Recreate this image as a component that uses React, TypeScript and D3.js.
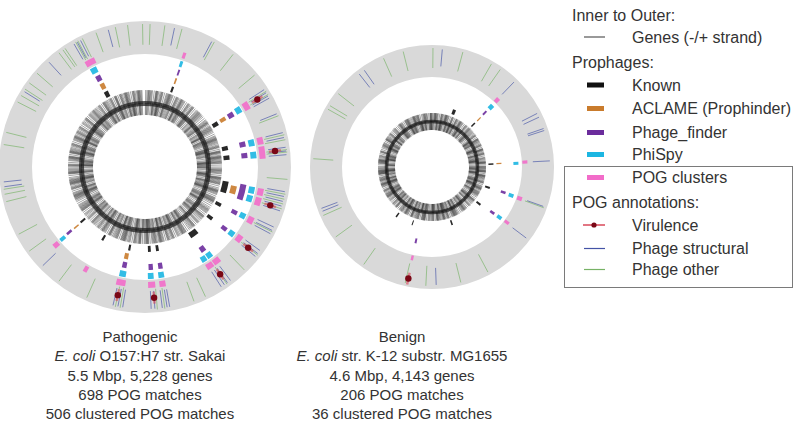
import React from 'react';
import * as d3 from 'd3';

// ---------------- DATA ----------------
const genomeSizes = [5.5, 4.6]; // Mbp
const captionTitles = ['Pathogenic', 'Benign'];
const captionStrains = [' O157:H7 str. Sakai', ' str. K-12 substr. MG1655'];
const captionSizes = ['5.5 Mbp, 5,228 genes', '4.6 Mbp, 4,143 genes'];
const captionPog = ['698 POG matches', '206 POG matches'];
const captionClustered = ['506 clustered POG matches', '36 clustered POG matches'];

// gene density per bin (ticks per bin), minus / plus strand
const sakaiGenesMinus =
  '3214253142231524312541325234132514321452312534125314235213425213425314213524135231425132452413521342513241352413253412534213524132531421534213524315243125431253421352413523142531420';
const sakaiGenesPlus =
  '2431524135314253142513542135244213532415253412431534125314521243153241532145231424135243153152413254143251352423514231543124531425421532413515324135242413251435324153241514253142530';
const k12GenesMinus =
  '314253142524135241353125341253142352134252134253142135241352314251324524135213425132413524132534125342135241325314215342135243152431254312534213524135';
const k12GenesPlus =
  '253142531414253142533241532415241325143515324135244215324135312453142523514231541432513524315241325424135243155321452314124315324134125314522534124315';

// prophage predictions [start, end] Mbp
const sakaiKnown = [[5.057, 5.103], [0.283, 0.306], [0.878, 0.924], [1.153, 1.199], [1.253, 1.299], [1.528, 1.650], [1.765, 1.803], [1.933, 1.971], [2.154, 2.246], [2.605, 2.635], [2.689, 2.719], [2.903, 2.926], [3.201, 3.224], [3.491, 3.514]];
const sakaiAclame = [[5.057, 5.103], [0.290, 0.306], [0.878, 0.917], [1.558, 1.635], [2.910, 2.949], [3.491, 3.506]];
const sakaiPhageFinder = [[5.057, 5.103], [0.290, 0.306], [0.878, 0.924], [1.153, 1.199], [1.253, 1.299], [1.528, 1.665], [1.765, 1.803], [1.933, 1.971], [2.192, 2.238], [2.597, 2.635], [2.681, 2.719], [2.910, 2.949], [3.491, 3.514]];
const sakaiPhiSpy = [[5.049, 5.103], [0.283, 0.306], [0.871, 0.924], [1.153, 1.207], [1.253, 1.306], [1.535, 1.589], [1.604, 1.658], [1.757, 1.803], [1.925, 1.971], [2.177, 2.223], [2.231, 2.276], [2.597, 2.643], [2.681, 2.727], [2.903, 2.956], [3.483, 3.514]];
const sakaiPogClusters = [[5.042, 5.118], [0.283, 0.306], [0.871, 0.932], [1.153, 1.207], [1.222, 1.314], [1.535, 1.589], [1.604, 1.665], [1.757, 1.810], [1.917, 1.971], [2.154, 2.208], [2.215, 2.269], [2.597, 2.643], [2.674, 2.727], [2.895, 2.964], [3.193, 3.224], [3.476, 3.514]];

const k12Known = [[0.256, 0.294], [0.556, 0.575], [1.105, 1.124], [1.393, 1.418], [1.623, 1.648], [2.044, 2.064], [2.536, 2.549], [2.747, 2.766]];
const k12Aclame = [[0.562, 0.575], [1.105, 1.118]];
const k12PhageFinder = [[0.556, 0.575], [1.386, 1.412], [1.610, 1.636], [2.447, 2.466]];
const k12PhiSpy = [[0.549, 0.588], [1.105, 1.131], [1.386, 1.418], [1.604, 1.636]];
const k12PogClusters = [[0.549, 0.581], [1.099, 1.124], [1.386, 1.418], [1.604, 1.629], [2.447, 2.466]];

// POG annotations (Mbp)
const sakaiVirulence = [0.901, 1.268, 1.635, 1.956, 2.215, 2.689, 2.933];
const sakaiStructural = [0.183, 0.428, 0.871, 0.894, 0.917, 0.932, 1.039, 1.161, 1.192, 1.253, 1.276, 1.299, 1.528, 1.558, 1.589, 1.619, 1.650, 1.757, 1.780, 1.803, 1.925, 1.948, 1.971, 2.185, 2.208, 2.231, 2.254, 2.597, 2.613, 2.643, 2.689, 2.712, 2.888, 2.918, 2.949, 3.453, 4.003, 4.033, 4.614, 4.851, 5.042, 5.065, 5.088, 5.271];
const sakaiOther = [0.031, 0.122, 0.229, 0.443, 0.581, 0.764, 0.886, 0.909, 1.054, 1.176, 1.207, 1.268, 1.283, 1.451, 1.543, 1.574, 1.604, 1.635, 1.788, 1.956, 2.078, 2.215, 2.368, 2.444, 2.628, 2.674, 2.903, 2.933, 3.117, 3.315, 3.575, 3.697, 3.911, 3.957, 3.988, 4.263, 4.339, 4.538, 4.583, 4.629, 4.675, 4.751, 4.935, 4.965, 4.981, 5.057, 5.072, 5.103, 5.194, 5.317, 5.393, 5.485];
const k12Virulence = [2.453];
const k12Structural = [0.064, 0.562, 0.805, 0.831, 0.907, 0.920, 1.112, 1.399, 1.623, 2.274, 3.169, 3.188, 4.114, 4.153];
const k12Other = [0.006, 0.192, 0.383, 0.447, 1.406, 1.942, 2.121, 2.338, 2.466, 2.747, 2.990, 3.143, 3.501, 3.821, 3.846, 3.936, 4.293, 4.421];

// legend
const legendProphageLabels = ['Known', 'ACLAME (Prophinder)', 'Phage_finder', 'PhiSpy', 'POG clusters'];
const legendAnnotationLabels = ['Virulence', 'Phage structural', 'Phage other'];

// ---------------- STYLE / LAYOUT ----------------
const trackColors = ['#111111', '#c97b2c', '#6b2c9c', '#1cb6e2', '#f26cc9'];
const structuralColor = '#4453a6';
const otherColor = '#77b266';
const virulenceDot = '#7a0716';
const virulenceLine = '#d9485a';
const ringFill = '#d9d9d9';
const textColor = '#333333';
const FONT = "'Liberation Sans', Arial, sans-serif";

const layouts = [
  { cx: 145, cy: 167, ringIn: 113, ringOut: 146, gIn: 52, gMid: 63.5, gOut: 77, tracks: [82, 91, 100, 109, 118], half: 3, virR: 131, textX: 140, band: 5 },
  { cx: 432, cy: 167, ringIn: 90, ringOut: 122, gIn: 37, gMid: 45.5, gOut: 54, tracks: [59, 67, 75.5, 84, 93], half: 2.5, virR: 114, textX: 402, band: 3.5 },
];

const genomeData = [
  {
    minus: sakaiGenesMinus, plus: sakaiGenesPlus,
    prophages: [sakaiKnown, sakaiAclame, sakaiPhageFinder, sakaiPhiSpy, sakaiPogClusters],
    virulence: sakaiVirulence, structural: sakaiStructural, other: sakaiOther,
  },
  {
    minus: k12GenesMinus, plus: k12GenesPlus,
    prophages: [k12Known, k12Aclame, k12PhageFinder, k12PhiSpy, k12PogClusters],
    virulence: k12Virulence, structural: k12Structural, other: k12Other,
  },
];

function pt(a: number, r: number): [number, number] {
  return [r * Math.sin(a), -r * Math.cos(a)];
}

function geneTicks(str: string, angle: (t: number) => number, r0: number, r1: number, key: string) {
  const n = str.length;
  const out: JSX.Element[] = [];
  for (let i = 0; i < n; i++) {
    const c = +str[i];
    for (let k = 0; k < c; k++) {
      const a = angle((i + (k + 0.5) / c) / n);
      const [x0, y0] = pt(a, r0);
      const [x1, y1] = pt(a, r1);
      out.push(<line key={`${key}${i}-${k}`} x1={x0} y1={y0} x2={x1} y2={y1} stroke="#000" strokeOpacity={0.4} strokeWidth={0.9} />);
    }
  }
  return out;
}

function Genome({ idx }: { idx: number }) {
  const L = layouts[idx];
  const D = genomeData[idx];
  const size = genomeSizes[idx];
  const ang = d3.scaleLinear().domain([0, size]).range([0, 2 * Math.PI]);
  const frac = d3.scaleLinear().domain([0, 1]).range([0, 2 * Math.PI]);
  const ring = d3.arc()({ innerRadius: L.ringIn, outerRadius: L.ringOut, startAngle: 0, endAngle: 2 * Math.PI } as any) as string;
  const tickIn = L.ringIn + (L.ringOut - L.ringIn) * 0.28;
  const tickOut = L.ringOut - 3;

  return (
    <g transform={`translate(${L.cx},${L.cy})`}>
      <path d={ring} fill={ringFill} />
      {/* genes */}
      {geneTicks(D.minus, frac, L.gIn, L.gMid + 0.5, 'm')}
      {geneTicks(D.plus, frac, L.gMid - 0.5, L.gOut, 'p')}
      <circle r={L.gMid} fill="none" stroke="#1a1a1a" strokeOpacity={0.72} strokeWidth={L.band} />
      {/* prophages */}
      {D.prophages.map((list, t) =>
        list.map((s, j) => (
          <path
            key={`pr${t}-${j}`}
            d={d3.arc()({ innerRadius: L.tracks[t] - L.half, outerRadius: L.tracks[t] + L.half, startAngle: ang(s[0]), endAngle: ang(s[1]) } as any) as string}
            fill={trackColors[t]}
            fillOpacity={0.9}
          />
        ))
      )}
      {/* POG annotations */}
      {D.other.map((p, j) => {
        const a = ang(p);
        const [x0, y0] = pt(a, tickIn);
        const [x1, y1] = pt(a, tickOut);
        return <line key={`o${j}`} x1={x0} y1={y0} x2={x1} y2={y1} stroke={otherColor} strokeWidth={1} strokeOpacity={0.65} />;
      })}
      {D.structural.map((p, j) => {
        const a = ang(p);
        const [x0, y0] = pt(a, tickIn + 2);
        const [x1, y1] = pt(a, tickOut - 1);
        return <line key={`s${j}`} x1={x0} y1={y0} x2={x1} y2={y1} stroke={structuralColor} strokeWidth={1} strokeOpacity={0.65} />;
      })}
      {D.virulence.map((p, j) => {
        const a = ang(p);
        const [x0, y0] = pt(a, L.virR - 6);
        const [x1, y1] = pt(a, L.virR + 6);
        const [cx, cy] = pt(a, L.virR);
        return (
          <g key={`v${j}`}>
            <line x1={x0} y1={y0} x2={x1} y2={y1} stroke={virulenceLine} strokeWidth={2.5} strokeOpacity={0.6} />
            <circle cx={cx} cy={cy} r={3.2} fill={virulenceDot} />
          </g>
        );
      })}
    </g>
  );
}

function Caption({ idx }: { idx: number }) {
  const x = layouts[idx].textX;
  const y0 = 342;
  const dy = 19.3;
  return (
    <text x={x} textAnchor="middle" fontFamily={FONT} fontSize={15} fill={textColor}>
      <tspan x={x} y={y0}>{captionTitles[idx]}</tspan>
      <tspan x={x} y={y0 + dy}><tspan fontStyle="italic">E. coli</tspan>{captionStrains[idx]}</tspan>
      <tspan x={x} y={y0 + 2 * dy}>{captionSizes[idx]}</tspan>
      <tspan x={x} y={y0 + 3 * dy}>{captionPog[idx]}</tspan>
      <tspan x={x} y={y0 + 4 * dy}>{captionClustered[idx]}</tspan>
    </text>
  );
}

function Legend() {
  const hx = 572;
  const lx = 632;
  const sx0 = 587, sx1 = 604;
  const prophY = [85, 108.5, 132.5, 154.5, 177.5];
  const annY = [225, 248.5, 269.5];
  return (
    <g fontFamily={FONT} fontSize={16} fill={textColor}>
      <rect x={564.5} y={166.5} width={228} height={121} fill="none" stroke="#7a7a7a" strokeWidth={1} />
      <text x={hx} y={21}>Inner to Outer:</text>
      <line x1={584} x2={605} y1={37} y2={37} stroke="#555" strokeWidth={1.2} />
      <text x={lx} y={42.5}>Genes (-/+ strand)</text>
      <text x={hx} y={67.5}>Prophages:</text>
      {legendProphageLabels.map((l, i) => (
        <g key={l}>
          <rect x={sx0} y={prophY[i] - 2.5} width={sx1 - sx0} height={5} fill={trackColors[i]} />
          <text x={lx} y={prophY[i] + 5.7}>{l}</text>
        </g>
      ))}
      <text x={hx} y={207.5}>POG annotations:</text>
      <line x1={583} x2={605} y1={annY[0]} y2={annY[0]} stroke={virulenceLine} strokeWidth={1.5} />
      <circle cx={594} cy={annY[0]} r={2.6} fill={virulenceDot} />
      <line x1={584} x2={605} y1={annY[1]} y2={annY[1]} stroke={structuralColor} strokeWidth={1.2} />
      <line x1={584} x2={605} y1={annY[2]} y2={annY[2]} stroke={otherColor} strokeWidth={1.2} />
      {legendAnnotationLabels.map((l, i) => (
        <text key={l} x={lx} y={annY[i] + 5.7}>{l}</text>
      ))}
    </g>
  );
}

export default function App() {
  return (
    <svg width={800} height={429} style={{ position: 'absolute', left: 0, top: 0, background: '#fff' }}>
      <rect width={800} height={429} fill="#fff" />
      <Genome idx={0} />
      <Genome idx={1} />
      <Caption idx={0} />
      <Caption idx={1} />
      <Legend />
    </svg>
  );
}
